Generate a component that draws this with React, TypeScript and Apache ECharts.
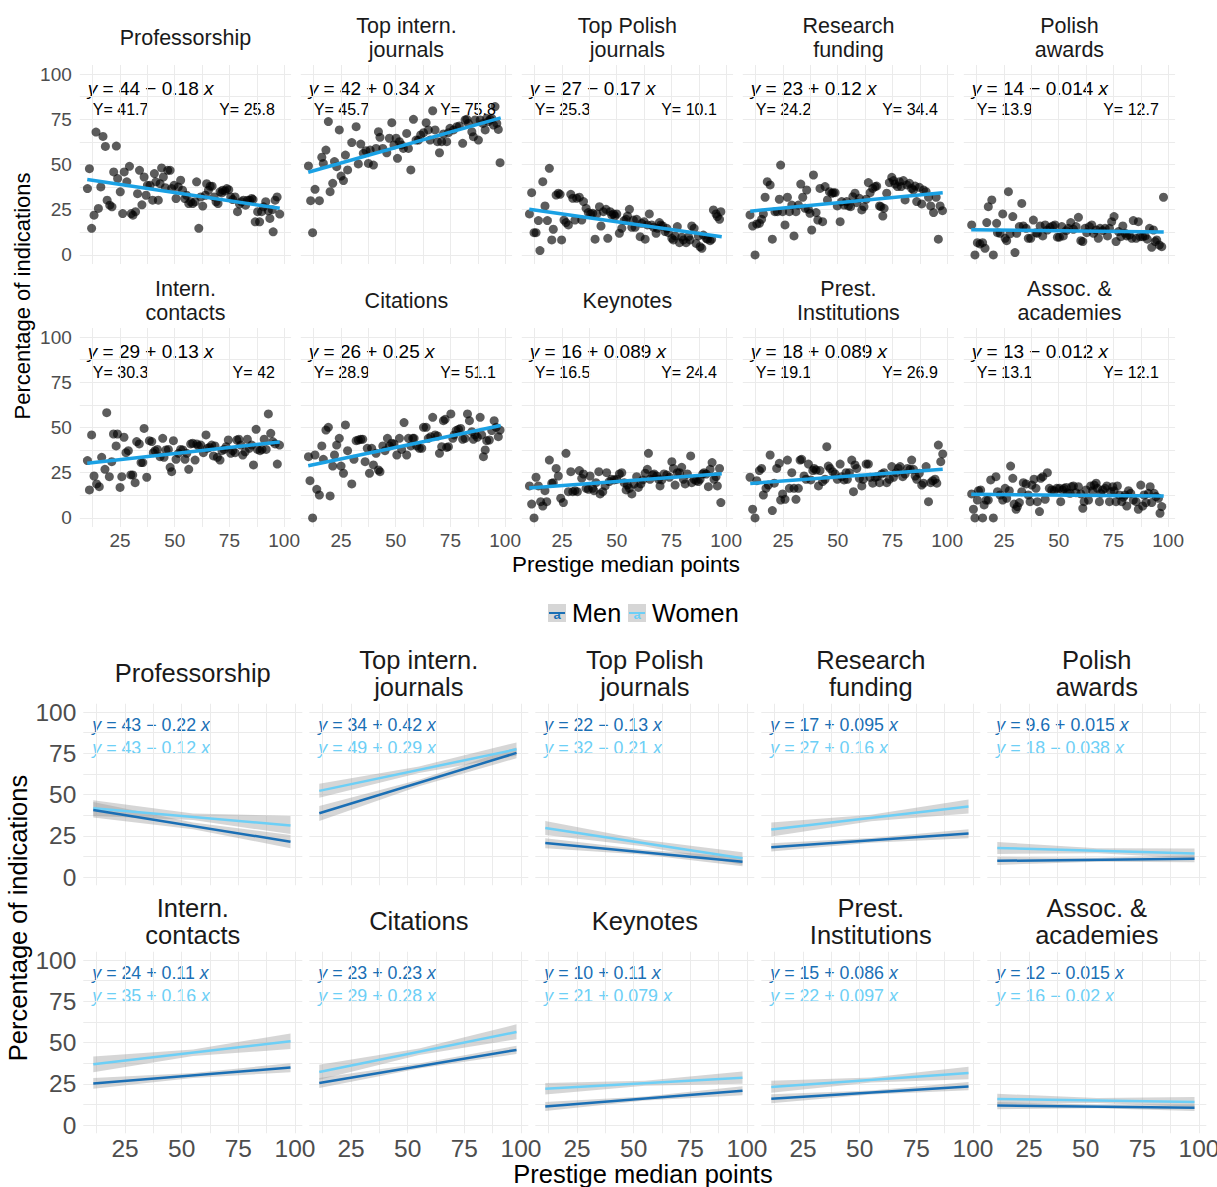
import React, { useEffect, useRef } from "react";
import * as echarts from "echarts";

// ---------------- DATA ----------------
const FACETS = [
  "Professorship", "Top intern.\njournals", "Top Polish\njournals", "Research\nfunding", "Polish\nawards",
  "Intern.\ncontacts", "Citations", "Keynotes", "Prest.\nInstitutions", "Assoc. &\nacademies",
];

const X_TICKS = [25, 50, 75, 100];
const Y_TICKS = [0, 25, 50, 75, 100];
const X_GRID = [12.5, 25, 37.5, 50, 62.5, 75, 87.5, 100];
const Y_GRID = [0, 12.5, 25, 37.5, 50, 62.5, 75, 87.5, 100];

// Top figure: overall fits
const EQ_ALL = [
  "y = 44 − 0.18 x", "y = 42 + 0.34 x", "y = 27 − 0.17 x", "y = 23 + 0.12 x", "y = 14 − 0.014 x",
  "y = 29 + 0.13 x", "y = 26 + 0.25 x", "y = 16 + 0.089 x", "y = 18 + 0.089 x", "y = 13 − 0.012 x",
];
const FIT_X = [10, 98];
const FIT_START = [41.7, 45.7, 25.3, 24.2, 13.9, 30.3, 28.9, 16.5, 19.1, 13.1];
const FIT_END = [25.8, 75.8, 10.1, 34.4, 12.7, 42, 51.1, 24.4, 26.9, 12.1];

const P_PROFESSORSHIP = [[10.1,36.7],[11.0,47.7],[12.0,14.7],[13.1,22.0],[14.0,67.9],[15.1,25.7],[16.2,37.6],[17.2,65.5],[18.3,60.0],[19.1,30.3],[20.3,27.5],[21.3,26.6],[22.1,45.9],[23.3,60.2],[23.9,42.2],[25.1,34.9],[26.2,22.9],[26.9,45.9],[28.1,40.4],[29.3,49.0],[30.1,22.9],[30.9,22.0],[32.1,23.9],[33.0,33.9],[33.9,46.8],[35.0,27.7],[36.0,43.1],[36.9,33.0],[37.5,38.5],[38.7,38.5],[39.9,30.3],[40.7,45.0],[41.4,40.4],[42.5,30.3],[43.3,39.4],[44.0,48.1],[44.8,43.1],[45.7,37.2],[46.8,46.8],[47.9,46.8],[48.6,36.7],[49.7,38.5],[50.6,31.2],[51.6,37.6],[52.7,41.3],[53.6,35.8],[54.6,31.2],[55.4,33.0],[56.4,28.4],[57.3,29.4],[58.2,28.4],[59.3,29.4],[60.0,40.4],[61.0,14.7],[61.9,32.1],[62.8,27.0],[64.0,33.0],[64.6,39.4],[65.4,35.8],[66.2,38.0],[67.1,38.0],[68.0,32.1],[68.9,29.4],[69.8,28.4],[70.7,34.9],[71.5,34.3],[71.9,35.8],[73.0,35.4],[73.8,36.7],[74.7,36.1],[75.6,32.1],[76.5,30.6],[77.6,32.1],[78.7,23.9],[79.6,28.1],[80.5,29.4],[81.4,30.3],[82.4,27.5],[83.3,30.3],[84.2,30.3],[85.2,31.2],[85.8,30.6],[86.8,18.3],[87.9,23.9],[88.8,18.3],[89.7,23.9],[90.6,26.6],[91.6,29.4],[92.8,24.4],[93.5,20.2],[94.6,25.0],[95.0,12.8],[95.9,30.3],[96.8,32.1],[98.0,22.6]];
const P_TOP_INTERN = [[10.1,49.2],[11.1,30.0],[12.0,12.3],[13.1,36.3],[15.1,30.0],[16.2,54.0],[16.9,50.6],[18.1,58.0],[19.2,73.7],[20.0,35.0],[21.2,39.6],[22.0,51.6],[23.0,48.8],[24.2,69.1],[25.0,43.6],[26.1,41.1],[27.0,55.2],[28.0,47.0],[29.9,62.1],[31.9,70.9],[32.9,50.3],[34.0,61.3],[35.2,56.2],[36.4,57.6],[37.5,50.6],[38.3,58.0],[39.8,49.7],[41.0,58.9],[42.1,68.1],[42.8,65.0],[44.1,58.9],[45.9,56.5],[47.1,64.5],[48.2,73.1],[49.2,60.8],[50.2,64.5],[50.8,53.4],[51.7,62.6],[52.7,60.8],[53.5,58.9],[55.0,67.2],[55.8,58.9],[56.9,47.0],[58.1,75.0],[59.3,63.5],[60.4,63.5],[61.4,66.3],[62.7,67.6],[63.9,73.1],[64.9,69.1],[65.7,63.5],[66.9,79.7],[68.0,69.1],[69.1,62.6],[70.0,56.5],[71.0,62.6],[71.8,66.9],[73.3,62.6],[74.1,67.6],[74.8,70.0],[76.4,69.1],[77.9,70.9],[79.1,71.3],[80.6,61.7],[81.7,74.6],[82.5,75.0],[83.2,72.7],[84.8,68.1],[85.5,65.4],[86.3,74.6],[87.8,63.5],[88.6,74.6],[89.8,72.7],[90.9,69.1],[91.6,75.5],[92.4,73.7],[93.1,75.0],[93.9,75.5],[94.7,71.8],[95.4,82.0],[96.2,72.7],[96.9,69.4],[97.7,51.0]];
const P_TOP_POLISH = [[10.1,22.7],[11.1,34.4],[12.2,12.3],[13.1,12.3],[14.2,19.0],[14.9,2.4],[16.2,40.5],[17.2,27.1],[18.3,19.0],[19.2,47.9],[20.3,8.3],[21.0,14.2],[22.3,33.1],[23.3,34.1],[24.1,33.5],[24.8,8.3],[25.9,19.3],[26.8,17.9],[27.9,16.6],[29.0,33.5],[29.9,31.3],[30.9,19.3],[31.7,31.3],[32.9,31.9],[34.0,19.3],[34.8,29.5],[36.0,25.8],[37.0,23.4],[38.1,22.7],[39.0,23.0],[40.1,8.7],[40.9,22.7],[42.1,26.7],[42.8,16.0],[43.9,23.9],[45.1,25.2],[45.9,9.2],[47.0,23.9],[47.7,22.1],[48.5,22.7],[49.2,21.5],[50.0,22.7],[51.2,12.0],[52.3,14.7],[53.4,19.0],[54.3,19.7],[54.9,21.5],[55.8,25.2],[56.9,15.3],[57.6,19.3],[58.4,15.3],[59.1,19.7],[60.7,10.1],[61.4,17.5],[62.5,18.4],[63.0,8.7],[64.0,16.6],[64.9,22.7],[66.0,16.6],[66.8,15.3],[68.0,12.0],[68.6,14.7],[69.5,17.9],[70.1,16.6],[71.0,16.0],[72.1,12.9],[72.9,14.7],[73.6,12.3],[75.2,9.2],[75.9,8.3],[76.7,10.5],[77.7,15.7],[78.7,6.8],[79.7,9.8],[80.5,8.3],[81.7,6.8],[82.8,10.1],[83.5,8.3],[84.3,16.0],[85.4,14.7],[86.3,6.4],[87.3,10.5],[88.1,4.6],[88.9,3.7],[89.6,11.0],[90.9,9.2],[91.5,8.7],[92.7,7.9],[93.4,8.7],[94.2,24.9],[95.4,22.7],[96.0,21.2],[97.0,19.7],[97.6,23.9]];
const P_RESEARCH = [[9.9,22.1],[11.1,16.0],[12.2,0],[13.0,17.1],[14.2,17.5],[15.2,19.7],[16.0,22.7],[16.8,31.9],[17.8,40.5],[19.1,38.7],[20.1,8.7],[21.3,23.9],[22.4,23.9],[23.3,30.8],[23.9,49.7],[24.8,23.9],[25.9,16.6],[27.0,31.9],[27.9,23.9],[29.0,27.6],[30.0,10.5],[30.9,23.9],[32.0,27.6],[33.1,39.2],[34.0,31.9],[35.1,25.8],[35.8,35.9],[36.6,25.2],[37.3,23.0],[38.1,13.8],[38.9,44.2],[40.1,23.4],[40.9,19.3],[41.9,36.8],[43.1,18.4],[44.2,37.8],[45.3,30.4],[46.2,35.0],[47.3,34.1],[48.0,34.4],[48.8,34.4],[49.8,27.1],[51.1,18.4],[51.8,29.5],[52.9,27.6],[54.1,29.5],[54.9,27.1],[55.9,26.7],[56.9,32.2],[57.9,34.1],[58.7,28.9],[59.9,31.3],[61.0,24.9],[62.0,26.7],[63.0,30.8],[64.0,40.0],[64.8,34.4],[66.0,36.8],[67.1,37.8],[67.8,38.1],[69.1,27.1],[69.7,26.7],[70.6,21.5],[71.2,25.8],[72.4,34.1],[73.6,40.0],[74.7,42.9],[75.5,41.1],[76.2,39.2],[77.3,37.8],[78.2,40.5],[79.0,37.8],[80.0,41.1],[80.8,30.4],[81.6,38.7],[82.8,39.6],[83.8,36.8],[84.6,35.9],[85.4,38.1],[86.1,29.5],[87.3,37.4],[88.4,28.2],[89.2,35.9],[90.4,35.0],[91.5,31.9],[92.5,27.1],[93.8,23.4],[95.0,31.9],[96.0,8.7],[96.8,27.1],[97.9,24.5]];
const P_POLISH_AWARDS = [[10.2,16.6],[11.7,0],[12.8,6.8],[14.0,6.1],[15.2,6.8],[16.3,3.7],[17.1,17.9],[17.8,26.7],[19.4,30.4],[20.1,0],[21.6,17.5],[22.0,12.3],[23.2,12.0],[24.4,22.7],[25.5,9.2],[26.2,7.9],[27.0,35.0],[27.7,11.6],[29.0,21.2],[30.0,1.3],[30.8,12.0],[32.0,15.7],[33.1,28.5],[33.8,16.0],[35.1,14.7],[36.1,9.2],[37.2,9.2],[38.4,19.3],[39.6,12.3],[40.2,12.0],[41.5,16.0],[42.7,10.5],[43.8,16.6],[44.8,13.8],[46.0,15.3],[47.3,16.0],[48.3,16.6],[49.4,9.8],[50.3,9.8],[51.4,15.7],[52.1,10.5],[53.4,13.4],[54.4,14.7],[55.5,17.9],[56.7,14.2],[57.9,15.7],[59.0,20.8],[60.1,7.9],[61.0,7.4],[62.0,14.7],[62.8,12.3],[64.0,15.7],[65.1,16.6],[65.9,12.0],[67.1,13.8],[68.1,9.2],[68.9,14.7],[70.1,13.4],[71.2,14.7],[72.3,10.5],[73.2,14.7],[74.2,18.4],[75.3,21.2],[76.2,7.4],[77.3,12.9],[78.4,10.1],[79.3,16.0],[80.3,12.0],[81.1,10.5],[82.3,11.0],[83.4,9.2],[84.1,19.0],[85.4,9.2],[86.4,18.4],[87.2,10.1],[88.4,10.1],[89.5,10.5],[90.5,8.7],[91.5,14.7],[92.5,4.2],[93.3,13.8],[94.1,7.4],[94.8,8.3],[96.0,5.5],[97.1,4.6],[97.9,31.9]];
const P_INTERN_CONTACTS = [[10.1,31.7],[11.0,15.5],[12.0,45.9],[13.1,23.2],[14.3,18.8],[15.5,17.3],[16.6,33.5],[18.1,26.9],[18.9,58.2],[20.1,22.8],[21.2,31.1],[22.0,46.4],[23.2,39.8],[23.8,46.4],[25.0,16.9],[25.8,22.8],[26.8,44.6],[27.7,36.1],[28.8,37.2],[29.9,23.8],[30.8,23.8],[31.9,19.5],[32.6,42.2],[33.8,40.9],[34.6,30.6],[35.4,30.6],[36.0,49.5],[37.2,22.5],[38.4,42.7],[39.5,42.2],[40.2,36.1],[41.0,37.2],[42.1,37.9],[43.3,33.9],[44.5,44.0],[45.1,33.5],[46.0,37.6],[47.1,37.9],[47.9,28.0],[48.6,25.6],[49.4,42.7],[50.6,32.4],[51.7,35.7],[52.7,37.9],[53.7,37.6],[54.7,32.4],[55.5,35.7],[56.4,26.9],[57.3,40.9],[58.2,41.3],[59.3,32.0],[60.1,40.9],[60.8,39.8],[61.9,40.3],[63.1,36.1],[64.3,45.9],[64.9,38.5],[65.9,39.0],[66.9,40.3],[67.7,34.3],[68.4,39.8],[69.5,33.5],[70.7,32.0],[71.6,37.2],[72.6,37.9],[73.5,39.4],[74.5,43.1],[75.6,35.7],[76.5,37.2],[77.6,36.1],[78.4,43.1],[79.3,43.5],[80.2,40.3],[81.1,34.8],[82.2,36.6],[83.2,43.5],[84.1,38.5],[85.2,40.3],[86.0,29.3],[87.2,49.0],[87.8,37.9],[89.0,37.2],[89.9,37.9],[90.9,43.5],[91.8,37.9],[92.8,57.5],[93.9,46.8],[94.8,42.2],[95.9,40.9],[96.9,29.8],[97.9,40.3]];
const P_CITATIONS = [[10.1,33.9],[10.8,20.6],[12.0,0],[13.1,34.8],[13.9,15.8],[15.1,12.7],[16.2,39.8],[16.9,32.4],[18.1,48.6],[19.2,50.1],[20.0,12.2],[21.2,28.7],[22.0,34.8],[23.0,40.3],[24.2,44.0],[25.0,28.7],[26.1,24.7],[27.0,51.4],[28.0,37.2],[29.9,18.8],[30.9,32.4],[31.9,42.7],[32.9,43.1],[34.0,43.5],[34.9,43.5],[36.0,31.1],[37.0,38.5],[38.0,24.7],[39.0,38.5],[39.8,29.3],[41.0,35.7],[42.1,26.5],[42.8,25.6],[44.1,39.8],[45.1,37.2],[46.2,44.0],[47.1,39.8],[48.2,41.3],[49.2,40.9],[50.5,34.8],[51.7,44.0],[52.7,37.9],[53.8,52.7],[55.0,34.8],[55.8,44.0],[56.9,39.8],[57.8,44.0],[58.4,44.0],[59.6,39.8],[60.8,38.5],[61.9,38.5],[62.7,50.1],[63.9,50.1],[64.9,44.0],[66.0,44.9],[66.9,55.6],[68.0,45.9],[69.1,45.3],[70.0,35.7],[71.0,39.4],[71.8,53.8],[72.6,54.5],[73.3,39.0],[74.1,39.4],[75.2,57.5],[76.1,44.0],[76.7,45.9],[77.6,48.3],[78.7,49.0],[79.7,49.5],[80.6,43.5],[81.7,44.0],[82.8,57.5],[83.7,53.8],[84.8,47.7],[85.5,43.5],[86.3,45.9],[87.3,44.6],[88.6,55.6],[89.3,45.9],[90.1,33.9],[90.9,37.6],[91.6,42.7],[92.8,43.1],[93.9,48.3],[95.0,53.8],[95.9,50.1],[96.9,44.9],[97.7,48.6]];
const P_KEYNOTES = [[10.1,17.7],[11.1,7.7],[12.2,0],[13.1,22.5],[14.2,17.7],[15.2,9.0],[16.2,6.6],[17.2,15.1],[18.0,9.0],[19.2,32.0],[20.3,19.2],[21.0,19.5],[22.3,27.4],[23.3,23.2],[24.4,10.9],[25.6,8.5],[26.8,35.7],[27.9,14.5],[29.0,25.6],[29.9,14.5],[30.9,15.1],[32.0,14.5],[32.9,26.2],[34.0,21.9],[34.8,24.3],[36.0,16.4],[37.0,15.8],[37.8,23.2],[39.0,16.4],[39.6,15.1],[40.5,19.5],[41.8,25.6],[42.4,13.3],[43.6,14.5],[44.7,17.7],[45.4,25.0],[46.6,20.1],[47.7,21.4],[48.8,21.0],[50.0,21.4],[51.2,24.3],[52.3,25.0],[53.4,19.5],[54.3,15.5],[54.9,18.2],[55.8,16.4],[56.9,13.3],[57.9,18.8],[59.1,22.8],[59.9,16.9],[61.0,18.8],[61.9,21.0],[63.0,24.7],[64.0,26.9],[64.5,35.7],[65.2,21.4],[66.5,23.8],[67.1,24.3],[68.3,23.2],[69.1,21.4],[69.8,17.7],[70.6,21.0],[71.6,24.3],[72.9,23.8],[74.1,22.5],[75.2,31.1],[75.9,27.4],[76.7,18.2],[77.7,25.0],[78.7,25.0],[79.7,28.0],[80.5,21.4],[81.3,18.8],[82.3,24.3],[83.8,34.3],[84.3,19.5],[85.4,21.4],[86.3,20.6],[87.3,20.1],[88.1,21.4],[89.3,24.3],[89.9,25.0],[90.9,24.3],[91.9,17.3],[92.7,26.9],[93.6,30.6],[94.5,21.4],[95.4,22.8],[96.0,17.7],[97.0,27.4],[97.6,8.5]];
const P_PREST_INST = [[9.9,22.5],[11.1,4.8],[12.2,0],[13.0,20.6],[14.2,26.2],[15.2,27.4],[16.0,12.7],[17.2,16.4],[18.3,18.2],[19.1,34.8],[20.1,4.1],[21.0,19.2],[22.1,27.4],[23.3,30.2],[23.9,9.9],[24.8,13.3],[25.9,10.3],[27.0,32.0],[27.9,16.4],[29.0,25.0],[30.0,16.4],[30.9,10.3],[32.0,16.4],[32.8,32.0],[33.5,32.4],[34.6,23.2],[35.5,21.4],[36.6,29.8],[37.7,21.0],[38.6,26.2],[39.2,27.4],[40.1,26.5],[41.2,17.7],[41.9,26.2],[43.1,20.1],[44.2,21.4],[45.0,39.4],[45.7,28.7],[46.5,27.4],[47.7,25.6],[48.8,24.3],[49.8,21.4],[51.1,29.8],[51.8,22.8],[52.9,21.0],[53.8,25.0],[54.4,21.4],[55.3,25.0],[56.4,32.0],[57.2,14.5],[57.9,29.3],[58.7,27.4],[59.9,21.9],[61.0,17.7],[61.7,21.4],[63.0,29.8],[64.0,29.8],[64.8,22.5],[66.0,19.2],[67.1,22.5],[68.1,22.8],[69.1,19.5],[70.1,24.3],[71.2,25.0],[72.4,19.5],[73.6,21.4],[74.7,28.4],[75.5,22.5],[76.7,25.0],[77.7,27.4],[78.5,28.4],[79.7,22.8],[80.8,24.3],[81.9,27.4],[83.1,26.9],[83.8,32.0],[84.6,26.9],[85.4,23.2],[86.1,21.4],[87.3,24.7],[88.4,18.2],[89.2,19.2],[90.4,28.4],[91.5,9.0],[92.5,19.5],[93.4,20.6],[94.5,21.4],[95.3,19.2],[96.0,40.3],[97.1,31.1],[98.0,35.4]];
const P_ASSOC = [[10.2,13.3],[11.0,4.8],[11.7,0],[12.8,9.9],[13.3,15.1],[14.3,15.5],[15.2,0],[15.9,7.2],[16.8,9.9],[17.8,9.9],[18.9,21.0],[20.1,0],[21.3,22.8],[22.0,14.5],[23.2,12.7],[24.4,9.9],[25.5,16.4],[26.2,10.9],[27.4,15.1],[28.0,28.7],[29.0,21.9],[29.6,7.7],[30.5,4.8],[31.1,6.3],[32.0,8.5],[33.1,14.5],[33.8,19.5],[35.1,18.8],[36.1,12.7],[36.9,9.0],[37.7,18.2],[38.7,21.4],[39.6,16.4],[40.2,9.0],[41.2,3.5],[41.8,21.9],[42.7,22.8],[43.8,10.3],[44.8,25.0],[45.7,16.4],[46.8,15.5],[47.9,15.1],[49.1,16.4],[50.3,16.4],[50.9,9.0],[51.8,15.5],[52.4,16.4],[53.4,16.9],[54.0,14.0],[55.2,13.6],[55.9,17.3],[56.7,17.7],[57.9,14.0],[59.0,17.3],[60.1,13.3],[61.0,5.3],[61.6,9.0],[62.5,15.5],[63.6,9.9],[64.6,17.7],[65.5,15.1],[66.2,18.2],[67.1,19.2],[67.7,16.4],[68.6,9.0],[69.2,13.6],[70.1,15.5],[71.2,16.4],[72.0,17.7],[73.2,9.0],[73.8,14.5],[74.7,17.3],[75.3,15.1],[76.2,9.0],[76.8,17.7],[77.7,12.7],[78.8,9.0],[79.6,11.4],[80.3,12.7],[81.1,6.6],[81.9,15.1],[82.9,13.6],[84.1,9.9],[85.4,9.0],[86.4,4.8],[87.5,18.2],[88.4,6.6],[89.0,12.7],[89.9,8.5],[91.0,13.6],[91.8,17.3],[92.5,8.5],[93.6,13.6],[94.5,11.8],[95.6,10.9],[96.3,2.6],[97.1,6.3]];
const POINTS = [P_PROFESSORSHIP, P_TOP_INTERN, P_TOP_POLISH, P_RESEARCH, P_POLISH_AWARDS, P_INTERN_CONTACTS, P_CITATIONS, P_KEYNOTES, P_PREST_INST, P_ASSOC];

// Bottom figure: fits by gender
const EQ_MEN = [
  "y = 43 − 0.22 x", "y = 34 + 0.42 x", "y = 22 − 0.13 x", "y = 17 + 0.095 x", "y = 9.6 + 0.015 x",
  "y = 24 + 0.11 x", "y = 23 + 0.23 x", "y = 10 + 0.11 x", "y = 15 + 0.086 x", "y = 12 − 0.015 x",
];
const EQ_WOMEN = [
  "y = 43 − 0.12 x", "y = 49 + 0.29 x", "y = 32 − 0.21 x", "y = 27 + 0.16 x", "y = 18 − 0.038 x",
  "y = 35 + 0.16 x", "y = 29 + 0.28 x", "y = 21 + 0.079 x", "y = 22 + 0.097 x", "y = 16 − 0.02 x",
];
const GROUP_X = [11, 98];
const MEN_START = [40.6, 38.6, 20.6, 18.0, 9.8, 25.2, 25.5, 11.2, 15.9, 11.8];
const MEN_END = [21.4, 75.2, 9.3, 26.3, 11.1, 34.8, 45.5, 20.8, 23.4, 10.5];
const WOMEN_START = [41.7, 52.2, 29.7, 28.8, 17.6, 36.8, 32.1, 21.9, 23.1, 15.8];
const WOMEN_END = [31.2, 77.4, 11.4, 42.7, 14.3, 50.7, 56.4, 28.7, 31.5, 14.0];
const BAND_X = [11, 55, 98];
const MEN_LO = [[36.0,29.0,17.5],[34.0,55.0,72.0],[17.5,13.5,6.5],[15.5,20.7,23.5],[7.3,9.2,9.0],[22.0,28.5,32.0],[22.5,34.2,43.0],[8.5,14.8,18.0],[13.2,18.5,21.0],[9.6,10.2,8.5]];
const MEN_HI = [[45.5,33.0,25.5],[43.0,59.0,78.5],[23.5,16.5,12.0],[20.5,23.7,29.0],[12.3,11.6,13.2],[28.5,31.5,37.5],[28.5,37.2,48.0],[14.0,17.2,23.5],[18.6,20.9,26.0],[14.0,12.2,12.5]];
const WOMEN_LO = [[37.0,34.5,26.0],[48.0,63.0,73.5],[25.5,18.5,7.5],[24.5,33.8,38.5],[14.0,14.4,11.3],[32.0,41.8,46.0],[27.5,42.4,52.0],[18.5,23.8,25.0],[19.5,25.8,27.8],[12.7,13.4,11.0]];
const WOMEN_HI = [[46.5,38.5,37.0],[56.5,67.0,81.5],[34.0,22.5,15.0],[33.0,37.8,47.0],[21.2,17.4,17.3],[41.5,45.8,55.5],[36.5,46.4,61.0],[25.5,26.8,32.5],[26.8,28.8,35.3],[18.9,16.4,17.0]];

// ---------------- STYLE / LAYOUT ----------------
const FONT = "'Liberation Sans', Arial, Helvetica, sans-serif";
const X_MIN = 6.6, X_MAX = 103.2, Y_MIN = -5, Y_MAX = 105;
const GRID_COLOR = "#ebebeb";
const TICK_COLOR = "#4d4d4d";
const FIT_COLOR = "#1aa1e4";
const MEN_COLOR = "#1a6fb5";
const WOMEN_COLOR = "#6dcff6";
const BAND_FILL = "rgba(153,153,153,0.4)";

const TOP = { left0: 79.8, dx: 221, w: 211.3, rows: [65, 328], h: 199, tick: 19, xMargin: 4, yMargin: 8 };
const BOT = { left0: 83.3, dx: 226, w: 219, rows: [703.75, 951.75], h: 181.5, tick: 24.5, xMargin: 3, yMargin: 7 };

const eqRich = (s: string) => "{i|y}" + s.slice(1, s.length - 1) + "{i|x}";

function textEl(x: number, y: number, text: string, size: number, fill: string, align = "center", extra: any = {}) {
  return {
    type: "text",
    x,
    y,
    silent: true,
    ...extra,
    style: {
      text,
      fill,
      fontSize: size,
      fontFamily: FONT,
      align,
      textAlign: align,
      verticalAlign: "middle",
      textVerticalAlign: "middle",
      lineHeight: Math.round(size * 1.1),
      ...(extra.style || {}),
    },
  };
}

function buildOption() {
  const grid: any[] = [];
  const xAxis: any[] = [];
  const yAxis: any[] = [];
  const series: any[] = [];
  const graphic: any[] = [];

  const addPanel = (L: any, i: number) => {
    const row = Math.floor(i / 5);
    const col = i % 5;
    const left = L.left0 + col * L.dx;
    const top = L.rows[row];
    const gi = grid.length;
    grid.push({ left, top, width: L.w, height: L.h, containLabel: false, outerBoundsMode: "none" });
    xAxis.push({
      type: "value", gridIndex: gi, min: X_MIN, max: X_MAX,
      axisLine: { show: false },
      axisTick: { show: false, customValues: X_GRID },
      axisLabel: { show: row === 1, customValues: X_TICKS, color: TICK_COLOR, fontSize: L.tick, fontFamily: FONT, margin: L.xMargin },
      splitLine: { show: true, lineStyle: { color: GRID_COLOR, width: 1 } },
    });
    yAxis.push({
      type: "value", gridIndex: gi, min: Y_MIN, max: Y_MAX,
      axisLine: { show: false },
      axisTick: { show: false, customValues: Y_GRID },
      axisLabel: { show: col === 0, customValues: Y_TICKS, color: TICK_COLOR, fontSize: L.tick, fontFamily: FONT, margin: L.yMargin },
      splitLine: { show: true, lineStyle: { color: GRID_COLOR, width: 1 } },
    });
    return { gi, left, top, row, col };
  };

  // ---- top figure ----
  for (let i = 0; i < 10; i++) {
    const { gi, left, top } = addPanel(TOP, i);
    series.push({
      type: "scatter", xAxisIndex: gi, yAxisIndex: gi, data: POINTS[i], symbolSize: 9, silent: true,
      itemStyle: { color: "rgba(0,0,0,0.8)" }, z: 2,
    });
    series.push({
      type: "line", xAxisIndex: gi, yAxisIndex: gi, silent: true, symbol: "none", z: 3,
      data: [[FIT_X[0], FIT_START[i]], [FIT_X[1], FIT_END[i]]],
      lineStyle: { color: FIT_COLOR, width: 3.5 },
    });
    graphic.push(textEl(left + TOP.w / 2, top - 27, FACETS[i], 21.5, "#1a1a1a", "center", { style: { lineHeight: 24 } }));
    graphic.push(textEl(left + 8, top + 23.5, eqRich(EQ_ALL[i]), 19, "#000", "left", {
      style: { rich: { i: { fontStyle: "italic", fontSize: 19, fontFamily: FONT, fill: "#000" } } },
    }));
    graphic.push(textEl(left + 13, top + 44, "Y= " + FIT_START[i], 16, "#000", "left"));
    graphic.push(textEl(left + 195, top + 44, "Y= " + FIT_END[i], 16, "#000", "right"));
  }

  // ---- bottom figure ----
  for (let i = 0; i < 10; i++) {
    const { gi, left, top } = addPanel(BOT, i);
    const band = (lo: number[], hi: number[]) => ({
      type: "custom", xAxisIndex: gi, yAxisIndex: gi, silent: true, z: 1,
      data: [[BAND_X[0], lo[0]]],
      renderItem: (_p: any, api: any) => {
        const pts: number[][] = [];
        for (let k = 0; k < BAND_X.length; k++) pts.push(api.coord([BAND_X[k], hi[k]]));
        for (let k = BAND_X.length - 1; k >= 0; k--) pts.push(api.coord([BAND_X[k], lo[k]]));
        return { type: "polygon", shape: { points: pts }, style: { fill: BAND_FILL } };
      },
    });
    series.push(band(MEN_LO[i], MEN_HI[i]));
    series.push(band(WOMEN_LO[i], WOMEN_HI[i]));
    series.push({
      type: "line", name: "Women", xAxisIndex: gi, yAxisIndex: gi, silent: true, symbol: "none", z: 3,
      data: [[GROUP_X[0], WOMEN_START[i]], [GROUP_X[1], WOMEN_END[i]]],
      lineStyle: { color: WOMEN_COLOR, width: 2.5 },
    });
    series.push({
      type: "line", name: "Men", xAxisIndex: gi, yAxisIndex: gi, silent: true, symbol: "none", z: 3,
      data: [[GROUP_X[0], MEN_START[i]], [GROUP_X[1], MEN_END[i]]],
      lineStyle: { color: MEN_COLOR, width: 2.5 },
    });
    graphic.push(textEl(left + BOT.w / 2, top - 30.5, FACETS[i], 25.5, "#1a1a1a", "center", { style: { lineHeight: 27 } }));
    graphic.push(textEl(left + 9, top + 21.5, eqRich(EQ_MEN[i]), 17.8, MEN_COLOR, "left", {
      style: { rich: { i: { fontStyle: "italic", fontSize: 17.8, fontFamily: FONT, fill: MEN_COLOR } } },
    }));
    graphic.push(textEl(left + 9, top + 44.5, eqRich(EQ_WOMEN[i]), 17.8, WOMEN_COLOR, "left", {
      style: { rich: { i: { fontStyle: "italic", fontSize: 17.8, fontFamily: FONT, fill: WOMEN_COLOR } } },
    }));
  }

  // axis titles
  graphic.push(textEl(22, 296, "Percentage of indications", 22, "#000", "center", { rotation: Math.PI / 2 }));
  graphic.push(textEl(626, 564, "Prestige median points", 22.4, "#000", "center"));
  graphic.push(textEl(18, 918, "Percentage of indications", 25.5, "#000", "center", { rotation: Math.PI / 2 }));
  graphic.push(textEl(643, 1174, "Prestige median points", 25.5, "#000", "center", { style: { lineHeight: 23 } }));

  // legend
  const legendItems = [
    { x: 548, label: "Men", color: MEN_COLOR },
    { x: 628, label: "Women", color: WOMEN_COLOR },
  ];
  for (const it of legendItems) {
    graphic.push({ type: "rect", silent: true, shape: { x: it.x, y: 604, width: 18, height: 18 }, style: { fill: "#d6d6d6" } });
    graphic.push({ type: "line", silent: true, shape: { x1: it.x + 1, y1: 613, x2: it.x + 17, y2: 613 }, style: { stroke: it.color, lineWidth: 2 } });
    graphic.push(textEl(it.x + 9, 614, "a", 13, it.color, "center", { style: { fontWeight: "bold" } }));
    graphic.push(textEl(it.x + 24, 613, it.label, 25.3, "#000", "left"));
  }

  return {
    animation: false,
    backgroundColor: "#ffffff",
    grid,
    xAxis,
    yAxis,
    series,
    graphic: { elements: graphic },
  };
}

export default function App() {
  const ref = useRef<HTMLDivElement>(null);
  useEffect(() => {
    document.body.style.margin = "0";
    if (!ref.current) return;
    const chart = echarts.init(ref.current, null, { renderer: "svg" });
    chart.setOption(buildOption() as any);
    return () => chart.dispose();
  }, []);
  return <div ref={ref} style={{ width: 1217, height: 1187 }} />;
}
